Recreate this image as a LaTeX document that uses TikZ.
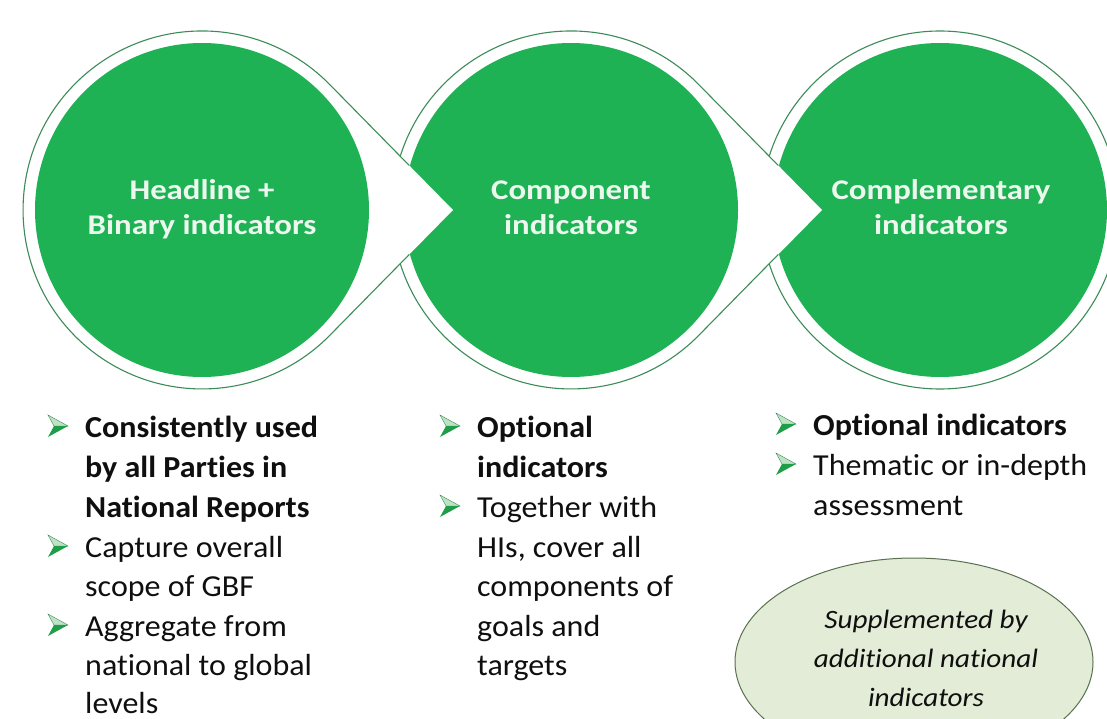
\documentclass[tikz,border=0pt]{standalone}
\usepackage{fontspec}
\setmainfont{Carlito}[FakeStretch=1.05, Ligatures=NoCommon]
\newfontfamily\titlefont{Carlito}[FakeStretch=1.15, Ligatures=NoCommon]
\newfontfamily\ellfont{Carlito}[FakeStretch=1.1, Ligatures=NoCommon]
\definecolor{gfill}{RGB}{30,178,84}
\definecolor{gline}{RGB}{60,140,90}
\definecolor{titletxt}{RGB}{236,248,238}
\definecolor{bodytxt}{RGB}{15,15,15}
\definecolor{ellfill}{RGB}{226,236,214}
\definecolor{elline}{RGB}{90,112,80}
\definecolor{bulletlight}{RGB}{190,226,196}
\definecolor{bulletdark}{RGB}{30,158,72}
\tikzset{
  outline/.style={draw=gline, line width=1.1pt, fill=white},
  disc/.style={fill=gfill},
  title/.style={text=titletxt, font=\titlefont\fontsize{28.5}{35}\selectfont\bfseries, inner sep=0pt, anchor=base},
  bodyl/.style={text=bodytxt, font=\fontsize{30.5}{40}\selectfont, inner sep=0pt, anchor=base west},
  bodyb/.style={bodyl, font=\fontsize{30.5}{40}\selectfont\bfseries},
  elltxt/.style={text=bodytxt, font=\ellfont\fontsize{26.5}{39}\selectfont\itshape, inner sep=0pt, anchor=base},
  arrowbul/.pic={
    \fill[bulletlight, draw=gline, line width=0.4pt] (0,-11) -- (20,0) -- (6,0) -- cycle;
    \fill[bulletdark] (6,0) -- (20,0) -- (0,11) -- cycle;
  }
}
\begin{document}
\begin{tikzpicture}[x=1pt,y=-1pt]
\useasboundingbox (0,0) rectangle (1107,719);
\fill[white] (0,0) rectangle (1107,719);
% outer outlines (right to left)
\path[outline] (940,210) circle[radius=179];
\path[outline] (822,210) -- (698.7,84.5) arc[start angle=-44.5, end angle=-315.5, radius=179] -- cycle;
\path[outline] (453,210) -- (329.7,84.5) arc[start angle=-44.5, end angle=-315.5, radius=179] -- cycle;
% green discs
\fill[disc] (202,210) circle[radius=167];
\fill[disc] (571,210) circle[radius=167];
\fill[disc] (940,210) circle[radius=167];
% notches cut by the arrow tips
\begin{scope}
  \clip (453,210) -- (329.7,84.5) arc[start angle=-44.5, end angle=-315.5, radius=179] -- cycle;
  \fill[white] (571,210) circle[radius=168];
\end{scope}
\begin{scope}
  \clip (822,210) -- (698.7,84.5) arc[start angle=-44.5, end angle=-315.5, radius=179] -- cycle;
  \fill[white] (940,210) circle[radius=168];
\end{scope}
% titles
\node[title] (t1a) at (202,200) {Headline +};
\node[title] (t1b) at (202,234) {Binary indicators};
\node[title] (t2a) at (571,200) {Component};
\node[title] (t2b) at (571,234) {indicators};
\node[title] (t3a) at (941,200) {Complementary};
\node[title] (t3b) at (941,234) {indicators};
% column 1
\pic at (48,426) {arrowbul};
\pic at (48,546) {arrowbul};
\pic at (48,625) {arrowbul};
\node[bodyb] (a1) at (85,437) {Consistently used};
\node[bodyb] (a2) at (85,477) {by all Parties in};
\node[bodyb] (a3) at (85,517) {National Reports};
\node[bodyl] (a4) at (85,557) {Capture overall};
\node[bodyl] (a5) at (85,596) {scope of GBF};
\node[bodyl] (a6) at (85,636) {Aggregate from};
\node[bodyl] (a7) at (85,675) {national to global};
\node[bodyl] (a8) at (85,713) {levels};
% column 2
\pic at (440,426) {arrowbul};
\pic at (440,506) {arrowbul};
\node[bodyb] (b1) at (477,437) {Optional};
\node[bodyb] (b2) at (477,477) {indicators};
\node[bodyl] (b3) at (477,517) {Together with};
\node[bodyl] (b4) at (477,557) {HIs, cover all};
\node[bodyl] (b5) at (477,596) {components of};
\node[bodyl] (b6) at (477,636) {goals and};
\node[bodyl] (b7) at (477,675) {targets};
% column 3
\pic at (776,424) {arrowbul};
\pic at (776,464) {arrowbul};
\node[bodyb] (c1) at (813,435) {Optional indicators};
\node[bodyl] (c2) at (813,475) {Thematic or in-depth};
\node[bodyl] (c3) at (813,515) {assessment};
% ellipse
\path[draw=elline, fill=ellfill, line width=1pt] (914,662) ellipse[x radius=179, y radius=104];
\node[elltxt] (e1) at (926,628) {Supplemented by};
\node[elltxt] (e2) at (926,667) {additional national};
\node[elltxt] (e3) at (926,706) {indicators};
\end{tikzpicture}
\end{document}
